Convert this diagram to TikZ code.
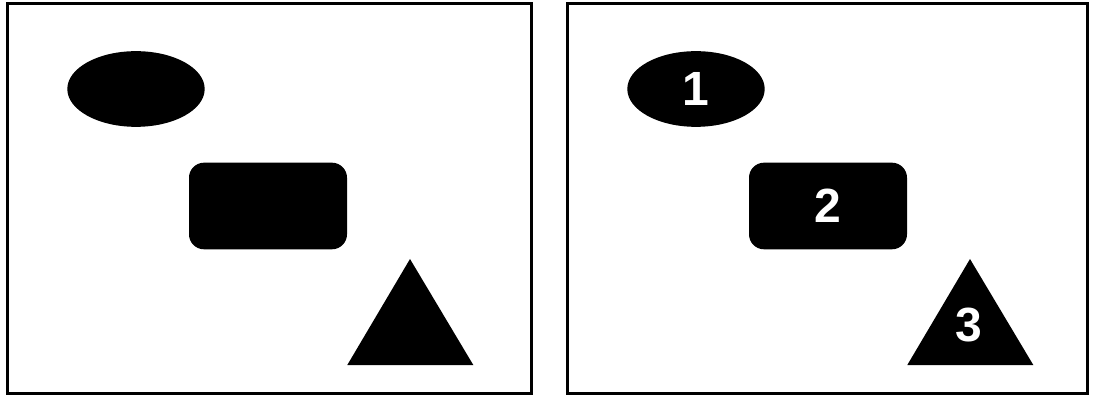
\documentclass[tikz,border=0pt]{standalone}
\usepackage{fontspec}
\setmainfont{Liberation Sans}
\usetikzlibrary{shapes.geometric}
\begin{document}
\begin{tikzpicture}[x=1pt,y=-1pt,
  panel/.style={draw=black,line width=3pt},
  blob/.style={fill=black,draw=none,inner sep=0pt},
  oval/.style={blob,ellipse,minimum width=137.4pt,minimum height=75.7pt},
  box/.style={blob,rectangle,rounded corners=15pt,minimum width=158pt,minimum height=86.6pt},
  num/.style={text=white,font=\bfseries\fontsize{48}{48}\selectfont,inner sep=0pt}]
\useasboundingbox (0,0) rectangle (1093,398);
% left panel
\draw[panel] (7.5,3.5) rectangle (531.5,393);
\node[oval] (e1) at (136,89) {};
\node[box] (r1) at (268,206) {};
\fill[black] (410,259) -- (473.3,365) -- (347.3,365) -- cycle;
% right panel
\draw[panel] (567.5,3.5) rectangle (1087.5,393);
\node[oval] (e2) at (696,89) {};
\node[box] (r2) at (828,206) {};
\fill[black] (970,259) -- (1033.3,365) -- (907.3,365) -- cycle;
\node[num] (n1) at (e2) {1};
\node[num] (n2) at (r2) {2};
\node[num] (n3) at (969,325) {3};
\end{tikzpicture}
\end{document}
